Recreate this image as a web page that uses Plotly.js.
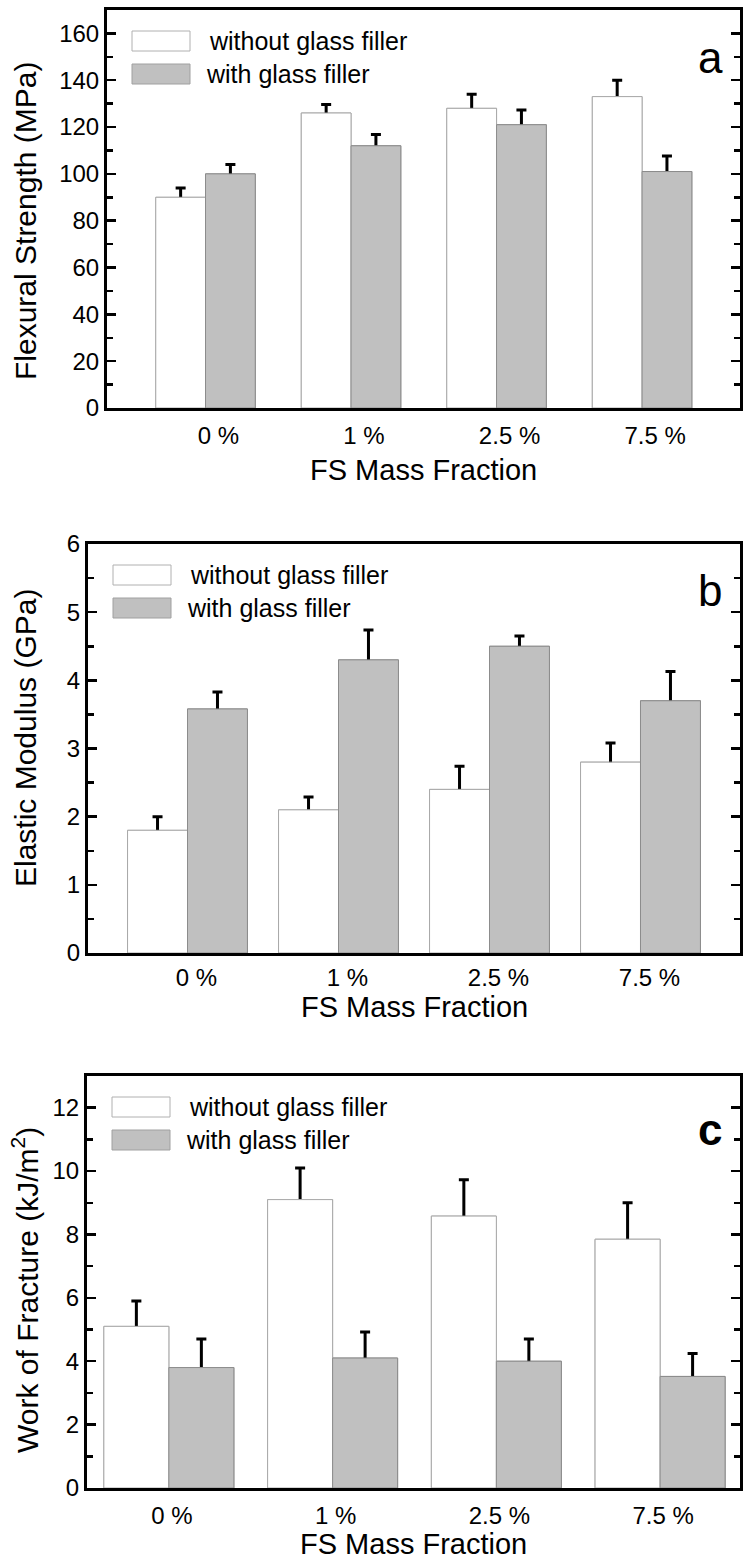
<!DOCTYPE html>
<html>
<head>
<meta charset="utf-8">
<script src="https://cdn.plot.ly/plotly-3.0.1.min.js"></script>
<style>
  html, body { margin: 0; padding: 0; background: #fff; }
  #chart { width: 750px; height: 1565px; }
</style>
</head>
<body>
<div id="chart"></div>
<script>
// FS mass fraction categories
const categories = ['0 %', '1 %', '2.5 %', '7.5 %'];

// (a) flexural strength, MPa
const flexWithout = [90, 126, 128, 133];
const flexWithoutErr = [4, 3.6, 6, 7];
const flexWith = [100, 112, 121, 101];
const flexWithErr = [4, 4.8, 6.3, 6.6];

// (b) elastic modulus, GPa
const modWithout = [1.8, 2.1, 2.4, 2.8];
const modWithoutErr = [0.2, 0.19, 0.34, 0.28];
const modWith = [3.58, 4.3, 4.5, 3.7];
const modWithErr = [0.25, 0.44, 0.15, 0.43];

// (c) work of fracture, kJ/m2
const wofWithout = [5.1, 9.1, 8.58, 7.85];
const wofWithoutErr = [0.8, 1.0, 1.15, 1.15];
const wofWith = [3.8, 4.1, 4.0, 3.52];
const wofWithErr = [0.9, 0.82, 0.7, 0.72];

const seriesNames = ['without glass filler', 'with glass filler'];

const W = 750, H = 1565;
const FONT = 'Liberation Sans, Arial, Helvetica, sans-serif';
const px = x => x / W;
const py = y => 1 - y / H;

const whiteBar = { color: '#ffffff', line: { color: '#a8a8a8', width: 1 } };
const grayBar = { color: '#c0c0c0', line: { color: '#8c8c8c', width: 1 } };

function errs(arr) {
    return { type: 'data', array: arr, color: '#000', thickness: 3, width: 5 };
}

// one panel = two bar traces with error bars, then the same bars again on top
// so only the upper half of each error bar shows (like the original)
function panel(n, without, withoutErr, withG, withErr, barW) {
    let xa = n === 1 ? 'x' : 'x' + n;
    let ya = n === 1 ? 'y' : 'y' + n;
    let base = { type: 'bar', x: categories, xaxis: xa, yaxis: ya, width: barW };
    return [
        Object.assign({}, base, { y: without, name: seriesNames[0], offset: -barW, marker: whiteBar, error_y: errs(withoutErr) }),
        Object.assign({}, base, { y: withG, name: seriesNames[1], offset: 0, marker: grayBar, error_y: errs(withErr) }),
        Object.assign({}, base, { y: without, name: seriesNames[0], offset: -barW, marker: whiteBar, hoverinfo: 'skip' }),
        Object.assign({}, base, { y: withG, name: seriesNames[1], offset: 0, marker: grayBar, hoverinfo: 'skip' })
    ];
}

let traces = []
    .concat(panel(1, flexWithout, flexWithoutErr, flexWith, flexWithErr, 0.342))
    .concat(panel(2, modWithout, modWithoutErr, modWith, modWithErr, 0.397))
    .concat(panel(3, wofWithout, wofWithoutErr, wofWith, wofWithErr, 0.397));

function xAxis(left, range, anchor, shift, standoff) {
    return {
        domain: [px(left), px(740)], anchor: anchor, type: 'category',
        range: range, showline: true, linecolor: '#000', linewidth: 3,
        mirror: true, ticks: '', showgrid: false, zeroline: false,
        tickfont: { family: FONT, size: 24, color: '#000' },
        ticklabelshift: shift, ticklabelstandoff: standoff, fixedrange: true
    };
}

function yAxis(top, bottom, range, dtick, anchor) {
    return {
        domain: [py(bottom), py(top)], anchor: anchor, range: range,
        dtick: dtick, showline: true, linecolor: '#000', linewidth: 3,
        mirror: 'ticks', ticks: 'inside', ticklen: 9, tickwidth: 2.5,
        tickcolor: '#000', showgrid: false, zeroline: false,
        minor: { ticks: 'inside', ticklen: 6, tickwidth: 2.5, tickcolor: '#000', dtick: dtick / 2, showgrid: false },
        tickfont: { family: FONT, size: 24, color: '#000' }, fixedrange: true
    };
}

// panel frames in page pixels
const frames = [
    { left: 107, top: 10, label: 'a', yTitle: 'Flexural Strength (MPa)', yTitleY: 221, xTitleY: 470, letterY: 58, letterBold: false },
    { left: 88, top: 544, label: 'b', yTitle: 'Elastic Modulus (GPa)', yTitleY: 738, xTitleY: 1007, letterY: 591, letterBold: false },
    { left: 87, top: 1076, label: 'c', yTitle: 'Work of Fracture (kJ/m<sup>2</sup>)', yTitleY: 1290, xTitleY: 1544, letterY: 1129, letterBold: true }
];

let annotations = [];
let shapes = [];

frames.forEach(f => {
    let cx = (f.left + 740) / 2;
    annotations.push({
        xref: 'paper', yref: 'paper', x: px(25), y: py(f.yTitleY), text: f.yTitle,
        textangle: -90, showarrow: false, xanchor: 'center', yanchor: 'middle',
        font: { family: FONT, size: 30, color: '#000' }
    });
    annotations.push({
        xref: 'paper', yref: 'paper', x: px(cx), y: py(f.xTitleY), text: 'FS Mass Fraction',
        showarrow: false, xanchor: 'center', yanchor: 'middle',
        font: { family: FONT, size: 29, color: '#000' }
    });
    annotations.push({
        xref: 'paper', yref: 'paper', x: px(710), y: py(f.letterY),
        text: f.letterBold ? '<b>' + f.label + '</b>' : f.label,
        showarrow: false, xanchor: 'center', yanchor: 'middle',
        font: { family: FONT, size: 44, color: '#000' }
    });
    // hand-drawn legend: large swatches like the original
    let bx = f.left + 25;
    let row1 = f.top + 31, row2 = f.top + 64;
    shapes.push({
        type: 'rect', xref: 'paper', yref: 'paper',
        x0: px(bx), x1: px(bx + 58), y0: py(row1 - 10), y1: py(row1 + 10),
        fillcolor: '#ffffff', line: { color: '#b0b0b0', width: 1 }
    });
    shapes.push({
        type: 'rect', xref: 'paper', yref: 'paper',
        x0: px(bx), x1: px(bx + 58), y0: py(row2 - 10), y1: py(row2 + 10),
        fillcolor: '#c0c0c0', line: { color: '#a0a0a0', width: 1 }
    });
    annotations.push({
        xref: 'paper', yref: 'paper', x: px(bx + 75), y: py(row1), text: seriesNames[0],
        showarrow: false, xanchor: 'left', yanchor: 'middle',
        font: { family: FONT, size: 25, color: '#000' }
    });
    annotations.push({
        xref: 'paper', yref: 'paper', x: px(bx + 72), y: py(row2), text: seriesNames[1],
        showarrow: false, xanchor: 'left', yanchor: 'middle',
        font: { family: FONT, size: 25, color: '#000' }
    });
});

const layout = {
    width: W, height: H,
    margin: { l: 0, r: 0, t: 0, b: 0 },
    paper_bgcolor: '#fff', plot_bgcolor: '#fff',
    showlegend: false, barmode: 'overlay',
    font: { family: FONT, color: '#000' },
    xaxis: xAxis(107, [-0.677, 3.673], 'y', 13, 4),
    yaxis: yAxis(10, 408, [0, 170], 20, 'x'),
    xaxis2: xAxis(88, [-0.659, 3.659], 'y2', 9, 1),
    yaxis2: yAxis(544, 953, [0, 6], 1, 'x2'),
    xaxis3: xAxis(87, [-0.5, 3.488], 'y3', 3, 4),
    yaxis3: yAxis(1076, 1488, [0, 13], 2, 'x3'),
    annotations: annotations,
    shapes: shapes
};

Plotly.newPlot('chart', traces, layout, { displayModeBar: false, staticPlot: true });
</script>
</body>
</html>
